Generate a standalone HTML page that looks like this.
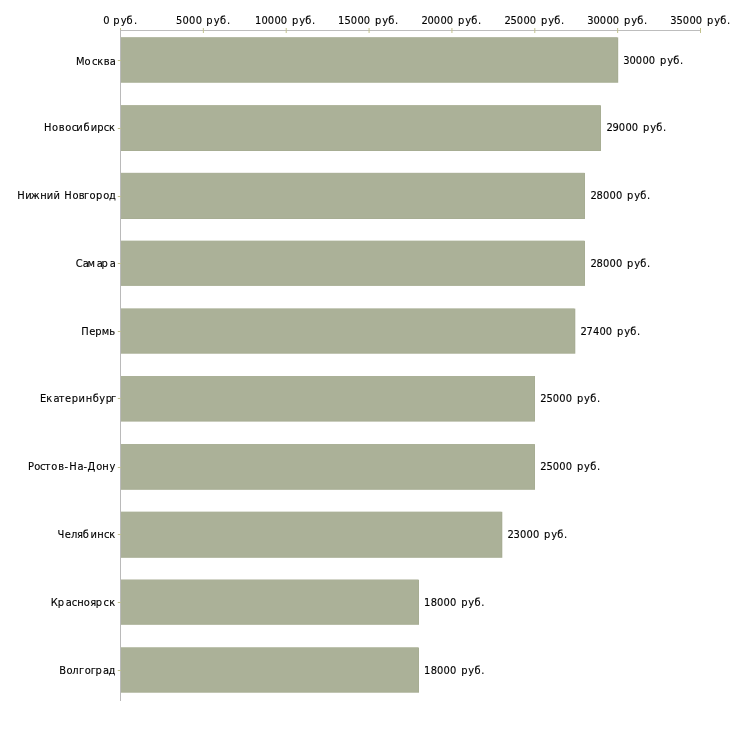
<!DOCTYPE html>
<html lang="ru"><head><meta charset="utf-8"><title>Зарплаты по городам</title>
<style>
html,body{margin:0;padding:0;background:#fff;}
body{width:730px;height:730px;overflow:hidden;}
svg{display:block;}
text{font-family:"DejaVu Sans Condensed","DejaVu Sans","Liberation Sans",sans-serif;font-stretch:condensed;font-size:11px;fill:#000;stroke:#000;stroke-width:0.12px;}
</style></head><body>
<svg width="730" height="730" viewBox="0 0 730 730">
<rect width="730" height="730" fill="#fff"/>

<rect x="120" y="30" width="581" height="1" fill="#bdbdbd"/>
<rect x="120.00" y="28" width="1" height="5" fill="#c2c28e"/>
<rect x="120" y="30" width="1" height="671" fill="#bababa"/>
<text id="ax0" x="103.2 109.5 113.13 120.87 126.38 133.93" y="24">0 руб.</text>
<rect x="202.86" y="28" width="1" height="5" fill="#c2c28e"/>
<text id="ax1" x="176.01 182.4 188.99 195.67 201.97 206.18 213.65 219.9 227.03" y="24">5000 руб.</text>
<rect x="285.71" y="28" width="1" height="5" fill="#c2c28e"/>
<text id="ax2" x="254.91 261.45 267.85 274.4 280.85 287.15 291.93 299.17 305.25 311.93" y="24">10000 руб.</text>
<rect x="368.57" y="28" width="1" height="5" fill="#c2c28e"/>
<text id="ax3" x="337.91 344.5 350.85 357.4 363.85 370.15 374.93 382.17 388.25 394.93" y="24">15000 руб.</text>
<rect x="451.43" y="28" width="1" height="5" fill="#c2c28e"/>
<text id="ax4" x="421.38 427.45 433.85 440.4 446.85 453.15 457.93 465.17 471.25 477.93" y="24">20000 руб.</text>
<rect x="534.29" y="28" width="1" height="5" fill="#c2c28e"/>
<text id="ax5" x="504.38 510.5 516.85 523.4 529.85 536.15 540.93 548.17 554.25 560.93" y="24">25000 руб.</text>
<rect x="617.14" y="28" width="1" height="5" fill="#c2c28e"/>
<text id="ax6" x="587.27 593.45 599.85 606.4 612.85 619.15 623.93 631.17 637.25 643.93" y="24">30000 руб.</text>
<rect x="700.00" y="28" width="1" height="5" fill="#c2c28e"/>
<text id="ax7" x="670.27 676.5 682.85 689.4 695.85 702.15 706.93 714.17 720.25 726.93" y="24">35000 руб.</text>
<rect x="121" y="37.4" width="497.20" height="45.35" fill="#a7ad93"/>
<rect x="121" y="37.4" width="496.20" height="44.35" fill="#abb198"/>
<rect x="117.8" y="60" width="3" height="1" fill="#c2c28e"/>
<text id="c0" x="76.06 84.41 91.96 97.24 103.63 109.79" y="65">Москва</text>
<text id="v0" x="623.27 629.45 635.85 642.4 648.85 655.15 659.93 667.17 673.25 679.93" y="64">30000 руб.</text>
<rect x="121" y="105.3" width="480.00" height="45.70" fill="#a7ad93"/>
<rect x="121" y="105.3" width="479.00" height="44.70" fill="#abb198"/>
<rect x="117.8" y="128" width="3" height="1" fill="#c2c28e"/>
<text id="c1" x="44.11 52.09 58.87 65.15 71.84 76.26 83.46 90.68 97.35 103.76 109" y="131">Новосибирск</text>
<text id="v1" x="606.38 612.48 618.85 625.4 631.85 638.15 642.93 650.17 656.25 662.93" y="131">29000 руб.</text>
<rect x="121" y="172.9" width="464.00" height="46.10" fill="#a7ad93"/>
<rect x="121" y="172.9" width="463.00" height="45.10" fill="#abb198"/>
<rect x="117.8" y="196" width="3" height="1" fill="#c2c28e"/>
<text id="c2" x="17.33 25.13 30.84 40.25 46.86 53.45 59.88 64.34 72.39 78.68 84.11 89.53 96.06 103.33 109" y="199">Нижний Новгород</text>
<text id="v2" x="590.48 596.55 602.95 609.5 615.95 622.25 627.03 634.27 640.35 647.03" y="199">28000 руб.</text>
<rect x="121" y="240.8" width="464.00" height="45.10" fill="#a7ad93"/>
<rect x="121" y="240.8" width="463.00" height="44.10" fill="#abb198"/>
<rect x="117.8" y="263" width="3" height="1" fill="#c2c28e"/>
<text id="c3" x="75.85 82.76 87.6 96.63 101.58 109.73" y="267">Самара</text>
<text id="v3" x="590.48 596.55 602.95 609.5 615.95 622.25 627.03 634.27 640.35 647.03" y="267">28000 руб.</text>
<rect x="121" y="308.6" width="454.30" height="45.10" fill="#a7ad93"/>
<rect x="121" y="308.6" width="453.30" height="44.10" fill="#abb198"/>
<rect x="117.8" y="331" width="3" height="1" fill="#c2c28e"/>
<text id="c4" x="81.29 89.3 95.26 101.84 109.37" y="335">Пермь</text>
<text id="v4" x="580.38 586.47 592.88 599.4 605.85 612.15 616.93 624.17 630.25 636.93" y="335">27400 руб.</text>
<rect x="121" y="376.0" width="414.00" height="45.60" fill="#a7ad93"/>
<rect x="121" y="376.0" width="413.00" height="44.60" fill="#abb198"/>
<rect x="117.8" y="398" width="3" height="1" fill="#c2c28e"/>
<text id="c5" x="40.12 46.34 53.59 58.68 64.98 71.67 78.62 85.72 92.87 99.29 105.8 111.08" y="402">Екатеринбург</text>
<text id="v5" x="540.33 546.45 552.8 559.35 565.8 572.1 576.88 584.12 590.2 596.88" y="402">25000 руб.</text>
<rect x="121" y="444.1" width="414.00" height="45.70" fill="#a7ad93"/>
<rect x="121" y="444.1" width="413.00" height="44.70" fill="#abb198"/>
<rect x="117.8" y="467" width="3" height="1" fill="#c2c28e"/>
<text id="c6" x="28.08 34.27 39.92 44.76 51.15 58.2 64.55 69.18 77.45 83.57 87.59 96.31 102.33 109.42" y="470">Ростов-На-Дону</text>
<text id="v6" x="540.33 546.45 552.8 559.35 565.8 572.1 576.88 584.12 590.2 596.88" y="470">25000 руб.</text>
<rect x="121" y="511.8" width="381.30" height="46.00" fill="#a7ad93"/>
<rect x="121" y="511.8" width="380.30" height="45.00" fill="#abb198"/>
<rect x="117.8" y="534" width="3" height="1" fill="#c2c28e"/>
<text id="c7" x="57.5 64.72 70.96 76.89 82.8 90.62 97.2 103.88 109.24" y="538">Челябинск</text>
<text id="v7" x="507.48 513.57 519.95 526.5 532.95 539.25 544.03 551.27 557.35 564.03" y="538">23000 руб.</text>
<rect x="121" y="579.7" width="298.00" height="45.10" fill="#a7ad93"/>
<rect x="121" y="579.7" width="297.00" height="44.10" fill="#abb198"/>
<rect x="117.8" y="602" width="3" height="1" fill="#c2c28e"/>
<text id="c8" x="50.77 57.87 65.73 71.83 77.33 83.87 90.35 95.77 103.59 109.19" y="606">Красноярск</text>
<text id="v8" x="424.11 430.65 437.05 443.6 450.05 456.35 461.13 468.37 474.45 481.13" y="606">18000 руб.</text>
<rect x="121" y="647.5" width="298.00" height="45.20" fill="#a7ad93"/>
<rect x="121" y="647.5" width="297.00" height="44.20" fill="#abb198"/>
<rect x="117.8" y="670" width="3" height="1" fill="#c2c28e"/>
<text id="c9" x="59.32 66.5 72.23 78.92 84.68 90.75 95.38 103 108.52" y="674">Волгоград</text>
<text id="v9" x="424.11 430.65 437.05 443.6 450.05 456.35 461.13 468.37 474.45 481.13" y="674">18000 руб.</text>
</svg></body></html>
